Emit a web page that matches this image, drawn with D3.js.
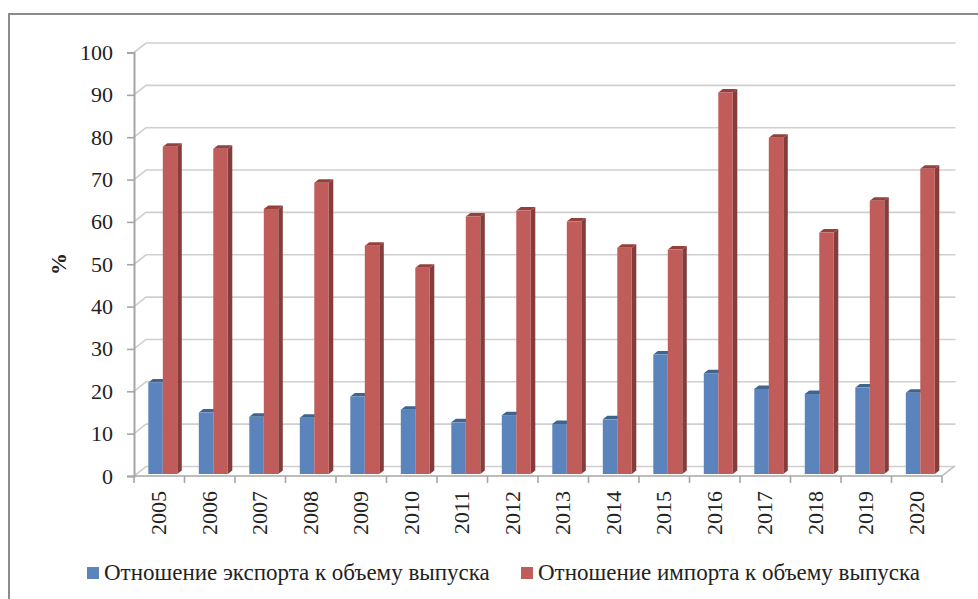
<!DOCTYPE html>
<html>
<head>
<meta charset="utf-8">
<script src="https://cdnjs.cloudflare.com/ajax/libs/d3/7.8.5/d3.min.js"></script>
<style>
	html, body { margin: 0; padding: 0; background: #fff; }
	svg { display: block; }
	text { font-family: 'Liberation Serif', serif; fill: #222; }
</style>
</head>
<body>
<div id="chart"></div>
<script>
const years = ['2005','2006','2007','2008','2009','2010','2011','2012','2013','2014','2015','2016','2017','2018','2019','2020'];
const exportShare = [21.6,14.5,13.5,13.3,18.3,15.2,12.2,13.9,11.8,12.9,28.2,23.8,20.1,18.9,20.4,19.2];
const importShare = [77.3,76.8,62.6,68.8,53.9,48.7,60.8,62.2,59.6,53.4,53.0,90.1,79.4,57.0,64.5,72.1];
const yTicks = [0,10,20,30,40,50,60,70,80,90,100];
const seriesNames = ['Отношение экспорта к объему выпуска','Отношение импорта к объему выпуска'];

const width = 978, height = 599;
const left = 134, right = 942, top0 = 52.5, bottom = 476;
// offset of the back wall and of the bar depth (fake 3d)
const wallX = 12, wallY = 9.5, barX = 4.5, barY = 3.5, floorLift = 2;

const blue = '#5b84bc', blueTop = '#41648f';
const red = '#c05c5a', redSide = '#853d3c', redTop = '#96403e';

const svg = d3.select('#chart').append('svg')
	.attr('width', width)
	.attr('height', height);

const xScale = d3.scaleBand().domain(years).range([left, right]);
const yScale = d3.scaleLinear().domain([0, 100]).range([bottom, top0]);

// outer frame
svg.append('path')
	.attr('d', `M9,${height} V14 H${width}`)
	.attr('fill', 'none')
	.attr('stroke', '#8c8c8c')
	.attr('stroke-width', 2);

// back wall lines and the floor
const grid = svg.append('g');
grid.selectAll('path')
	.data(yTicks)
	.enter()
	.append('path')
	.attr('d', (d) => `M${left},${yScale(d)} l${wallX},${-wallY} H${right + wallX + 1.5}`)
	.attr('fill', 'none')
	.attr('stroke', '#cfcfcf')
	.attr('stroke-width', 1.6);

grid.append('path')
	.attr('d', `M${right},${bottom} l${wallX},${-wallY}`)
	.attr('fill', 'none')
	.attr('stroke', '#c4c4c4')
	.attr('stroke-width', 1.6);

grid.append('line')
	.attr('x1', left).attr('x2', right)
	.attr('y1', bottom).attr('y2', bottom)
	.attr('stroke', '#a6a6a6')
	.attr('stroke-width', 1.6);

// axes
const yAxis = svg.append('g')
	.attr('transform', `translate(${left}, 0)`)
	.call(d3.axisLeft(yScale).tickValues(yTicks).tickSize(7).tickPadding(14));

const xAxis = svg.append('g')
	.attr('transform', `translate(0, ${bottom})`)
	.call(d3.axisBottom(xScale).tickSize(0).tickPadding(0));

// ticks between the categories
xAxis.selectAll('.sep')
	.data(d3.range(years.length + 1))
	.enter()
	.append('line')
	.attr('class', 'sep')
	.attr('x1', (i) => left + i * xScale.step())
	.attr('x2', (i) => left + i * xScale.step())
	.attr('y1', 0)
	.attr('y2', 7)
	.attr('stroke', '#a6a6a6')
	.attr('stroke-width', 1.6);

svg.selectAll('.domain')
	.attr('stroke', '#a6a6a6')
	.attr('stroke-width', 2);
yAxis.selectAll('.tick line')
	.attr('stroke', '#a6a6a6')
	.attr('stroke-width', 1.6);
xAxis.select('.domain').remove();

yAxis.selectAll('text')
	.style('font-size', '22px');

xAxis.selectAll('.tick text')
	.style('font-size', '22px')
	.attr('text-anchor', 'end')
	.attr('transform', 'translate(0, 15) rotate(-90)')
	.attr('x', 0)
	.attr('y', 0)
	.attr('dy', '0.32em');

// bars
const barWidth = xScale.bandwidth() * 0.287;
const barBase = bottom - floorLift;
const barTop = (v) => barBase - (yScale(0) - yScale(v));
const blueX = (y) => xScale(y) + 14.3;
const redX = (y) => xScale(y) + 14.3 + barWidth;

const barGroups = svg.selectAll('.bar')
	.data(years)
	.enter()
	.append('g')
	.attr('class', 'bar');

// blue cap first, the red bar stands in front of its side
barGroups.append('path')
	.attr('d', (y, i) => {
		const x = blueX(y), t = barTop(exportShare[i]);
		return `M${x},${t} l${barX},${-barY} h${barWidth} l${-barX},${barY} Z`;
	})
	.attr('fill', blueTop);

barGroups.append('rect')
	.attr('x', (y) => blueX(y))
	.attr('y', (y, i) => barTop(exportShare[i]))
	.attr('width', barWidth)
	.attr('height', (y, i) => barBase - barTop(exportShare[i]))
	.attr('fill', blue);

barGroups.append('path')
	.attr('d', (y, i) => {
		const x = redX(y) + barWidth, t = barTop(importShare[i]);
		return `M${x},${t} l${barX},${-barY} V${barBase - barY} l${-barX},${barY} Z`;
	})
	.attr('fill', redSide);

barGroups.append('path')
	.attr('d', (y, i) => {
		const x = redX(y), t = barTop(importShare[i]);
		return `M${x},${t} l${barX},${-barY} h${barWidth} l${-barX},${barY} Z`;
	})
	.attr('fill', redTop);

barGroups.append('rect')
	.attr('x', (y) => redX(y))
	.attr('y', (y, i) => barTop(importShare[i]))
	.attr('width', barWidth)
	.attr('height', (y, i) => barBase - barTop(importShare[i]))
	.attr('fill', red);

// axis title
svg.append('text')
	.attr('transform', 'translate(66, 264) rotate(-90)')
	.attr('text-anchor', 'middle')
	.style('font-size', '22px')
	.style('font-weight', 700)
	.text('%');

// legend
const legend = svg.selectAll('.legend')
	.data(seriesNames)
	.enter()
	.append('g')
	.attr('class', 'legend')
	.attr('transform', (d, i) => `translate(${i == 0 ? 87 : 521}, 0)`);

legend.append('rect')
	.attr('x', 0)
	.attr('y', 567)
	.attr('width', 12)
	.attr('height', 12)
	.attr('fill', (d, i) => i == 0 ? blue : red);

legend.append('text')
	.attr('x', 17)
	.attr('y', 580)
	.style('font-size', '23px')
	.text((d) => d);
</script>
</body>
</html>
